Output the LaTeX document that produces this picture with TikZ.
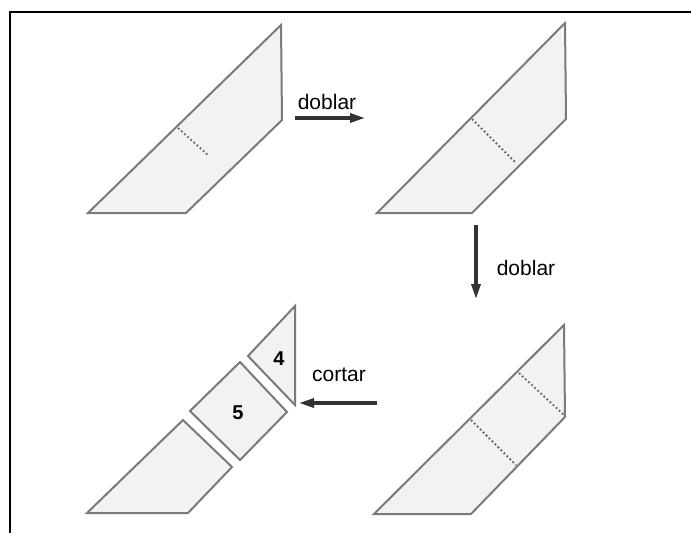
\documentclass[tikz,border=0pt]{standalone}
\usepackage{fontspec}
\setmainfont{Liberation Sans}
\usetikzlibrary{arrows.meta, positioning}

\begin{document}
\begin{tikzpicture}[
    x=1pt, y=-1pt,
    piece/.style={draw=black!52, fill=black!5, line width=2pt, line join=miter},
    fold/.style={draw=black!60, line width=1.8pt, dash pattern=on 1.8pt off 2.4pt},
    arrow/.style={-{Triangle[length=15pt, width=9pt]}, line width=3.2pt, draw=black!80},
    word/.style={font=\fontsize{21}{25}\selectfont, inner sep=0pt},
    num/.style={font=\fontsize{20}{24}\selectfont\bfseries, inner sep=0pt}
]
\useasboundingbox (0,0) rectangle (691,533);

% Frame
\draw[line width=2pt] (10,533) -- (10,12) -- (691,12);

% Step 1
\filldraw[piece] (88,213) -- (186,213) -- (282,120) -- (281,25) -- cycle;
\draw[fold] (178,128) -- (209,156);

% Step 2
\filldraw[piece] (377,213) -- (472,213) -- (566,119) -- (565,23) -- cycle;
\draw[fold] (472,119) -- (516,163);

% Step 3
\filldraw[piece] (374,514) -- (471,514) -- (565,417) -- (564,325) -- cycle;
\draw[fold] (471,420) -- (516,465);
\draw[fold] (519,373) -- (564,415);

% Step 4 (cut pieces)
\filldraw[piece] (295,306) -- (248,356) -- (295,405) -- cycle;
\filldraw[piece] (240,362) -- (190,411) -- (240,460) -- (287,412) -- cycle;
\filldraw[piece] (183,420) -- (87,513) -- (188,513) -- (232,467) -- cycle;
\node[num] (n4) at (279,359) {4};
\node[num] (n5) at (238,413) {5};

% Arrows
\coordinate (a1s) at (295,118);
\coordinate (a1e) at (365,118);
\coordinate (a2s) at (476,225);
\coordinate (a2e) at (476,299);
\coordinate (a3s) at (377,403);
\coordinate (a3e) at (299,403);

\draw[arrow] (a1s) -- (a1e);
\draw[arrow] (a2s) -- (a2e);
\draw[arrow] (a3s) -- (a3e);

\node[word] (t1) at (327,102) {doblar};
\node[word] (t2) at (526,268) {doblar};
\node[word] (t3) at (339,375) {cortar};

\end{tikzpicture}
\end{document}
